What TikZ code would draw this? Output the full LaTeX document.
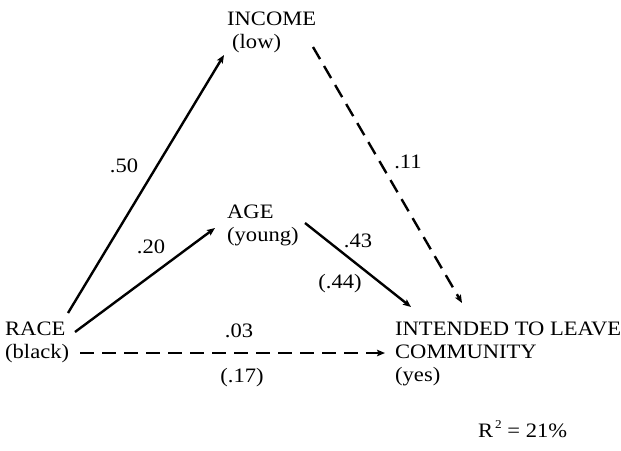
\documentclass[tikz,border=0pt]{standalone}
\usepackage{fontspec}
\setmainfont[FakeStretch=1.1]{Liberation Serif}
\usetikzlibrary{arrows.meta}
\begin{document}
\begin{tikzpicture}[x=1pt,y=-1pt,
  lbl/.style={inner sep=0pt,anchor=north west,align=left,font=\fontsize{20.5}{23}\selectfont},
  coef/.style={inner sep=0pt,anchor=base,font=\fontsize{20.5}{23}\selectfont},
  path/.style={line width=2.4pt,-{Stealth[length=8pt,width=6.5pt,inset=1.5pt]}},
  nspath/.style={path,dash pattern=on 14pt off 8pt}]
\useasboundingbox (0,0) rectangle (621,450);
% variables
\node[lbl] (race) at (5,322) {RACE\\(black)};
\node[lbl] (income) at (227,12) {INCOME\\\hspace*{5pt}(low)};
\node[lbl] (age) at (227,205) {AGE\\(young)};
\node[lbl] (leave) at (395,322) {INTENDED TO LEAVE\\COMMUNITY\\(yes)};
\node[coef,anchor=base west] (rsq) at (478,437) {R\raisebox{9pt}{\fontsize{12}{12}\selectfont\,2} = 21\%};
% connector ends
\coordinate (r2i-s) at (68,313);  \coordinate (r2i-e) at (224,55);
\coordinate (r2a-s) at (75,332);  \coordinate (r2a-e) at (215,228);
\coordinate (a2t-s) at (305,223); \coordinate (a2t-e) at (411,307);
\coordinate (i2t-s) at (313,47);  \coordinate (i2t-e) at (462,303);
\coordinate (r2t-s) at (80,353);  \coordinate (r2t-e) at (385,353);
% connectors
\draw[path] (r2i-s) -- (r2i-e);
\draw[path] (r2a-s) -- (r2a-e);
\draw[path] (a2t-s) -- (a2t-e);
\draw[nspath] (i2t-s) -- (i2t-e);
\draw[nspath] (r2t-s) -- (r2t-e);
% coefficients
\node[coef] (c50) at (124,172) {.50};
\node[coef] (c11) at (408,168) {.11};
\node[coef] (c20) at (151,253) {.20};
\node[coef] (c43) at (358,247) {.43};
\node[coef] (c44) at (340,288) {(.44)};
\node[coef] (c03) at (239,337) {.03};
\node[coef] (c17) at (242,382) {(.17)};
\end{tikzpicture}
\end{document}
